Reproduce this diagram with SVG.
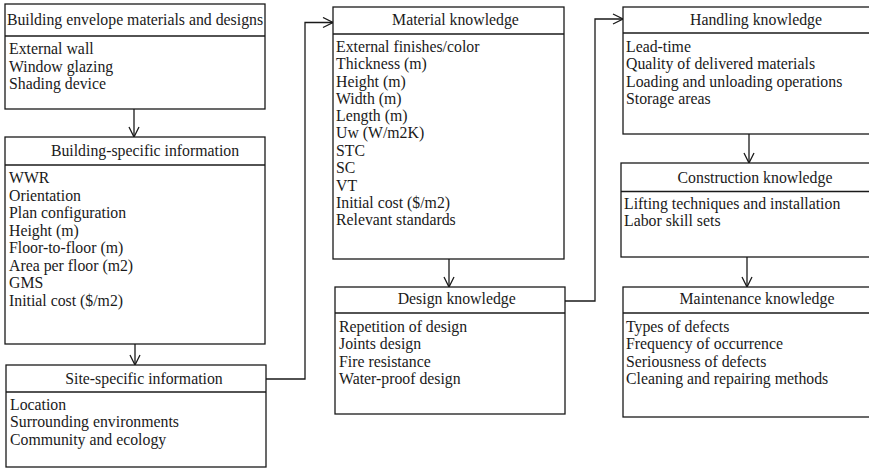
<svg xmlns="http://www.w3.org/2000/svg" width="869" height="468" viewBox="0 0 869 468">
  <style>
    .box { fill: #ffffff; stroke: #1a1a1a; stroke-width: 1.3; }
    .div { stroke: #1a1a1a; stroke-width: 1.3; }
    .con { fill: none; stroke: #1a1a1a; stroke-width: 1.3; }
    text { font-family: "Liberation Serif", "Times New Roman", serif; font-size: 15.8px; fill: #1a1a1a; }
    .h { text-anchor: middle; }
  </style>
  <defs>
    <marker id="open" viewBox="0 0 12 12" refX="11" refY="6" markerWidth="12" markerHeight="12" markerUnits="userSpaceOnUse" orient="auto">
      <path d="M1,1 L11,6 L1,11" fill="none" stroke="#1a1a1a" stroke-width="1.3"/>
    </marker>
  </defs>
  <rect width="869" height="468" fill="#ffffff"/>

  <!-- connectors -->
  <g id="connectors">
    <line class="con" x1="134" y1="109" x2="134" y2="137" marker-end="url(#open)"/>
    <line class="con" x1="135" y1="344" x2="135" y2="365" marker-end="url(#open)"/>
    <polyline class="con" points="266,379 305,379 305,22.5 333,22.5" marker-end="url(#open)"/>
    <line class="con" x1="449" y1="259" x2="449" y2="287" marker-end="url(#open)"/>
    <polyline class="con" points="565,301 595,301 595,19 623,19" marker-end="url(#open)"/>
    <line class="con" x1="749" y1="134" x2="749" y2="163" marker-end="url(#open)"/>
    <line class="con" x1="747" y1="257" x2="747" y2="287" marker-end="url(#open)"/>
  </g>

  <!-- left column -->
  <g id="envelope">
    <rect class="box" x="5" y="4" width="260" height="105"/>
    <line class="div" x1="5" y1="36" x2="265" y2="36"/>
    <text class="h" x="135" y="25">Building envelope materials and designs</text>
    <text x="9" y="54.3">External wall</text>
    <text x="9" y="71.7">Window glazing</text>
    <text x="9" y="89">Shading device</text>
  </g>

  <g id="building">
    <rect class="box" x="5" y="137" width="260" height="207"/>
    <line class="div" x1="5" y1="165" x2="265" y2="165"/>
    <text class="h" x="145" y="156">Building-specific information</text>
    <text x="9" y="183.3">WWR</text>
    <text x="9" y="200.8">Orientation</text>
    <text x="9" y="218.3">Plan configuration</text>
    <text x="9" y="235.8">Height (m)</text>
    <text x="9" y="253.3">Floor-to-floor (m)</text>
    <text x="9" y="270.8">Area per floor (m2)</text>
    <text x="9" y="288.3">GMS</text>
    <text x="9" y="305.8">Initial cost ($/m2)</text>
  </g>

  <g id="site">
    <rect class="box" x="6" y="365" width="260" height="102"/>
    <line class="div" x1="6" y1="392" x2="266" y2="392"/>
    <text class="h" x="144" y="384">Site-specific information</text>
    <text x="10" y="410">Location</text>
    <text x="10" y="427.4">Surrounding environments</text>
    <text x="10" y="444.8">Community and ecology</text>
  </g>

  <!-- middle column -->
  <g id="material">
    <rect class="box" x="333" y="7" width="231" height="252"/>
    <line class="div" x1="333" y1="34" x2="564" y2="34"/>
    <text class="h" x="455.5" y="25">Material knowledge</text>
    <text x="336" y="51.7">External finishes/color</text>
    <text x="336" y="69.2">Thickness (m)</text>
    <text x="336" y="86.7">Height (m)</text>
    <text x="336" y="104">Width (m)</text>
    <text x="336" y="121">Length (m)</text>
    <text x="336" y="137.6">Uw (W/m2K)</text>
    <text x="336" y="155.5">STC</text>
    <text x="336" y="173">SC</text>
    <text x="336" y="190.5">VT</text>
    <text x="336" y="208">Initial cost ($/m2)</text>
    <text x="336" y="225.3">Relevant standards</text>
  </g>

  <g id="design">
    <rect class="box" x="335" y="287" width="230" height="127"/>
    <line class="div" x1="335" y1="313" x2="565" y2="313"/>
    <text class="h" x="456.7" y="304.3">Design knowledge</text>
    <text x="339" y="331.7">Repetition of design</text>
    <text x="339" y="349.1">Joints design</text>
    <text x="339" y="366.5">Fire resistance</text>
    <text x="339" y="383.9">Water-proof design</text>
  </g>

  <!-- right column -->
  <g id="handling">
    <rect class="box" x="623" y="7" width="256" height="127"/>
    <line class="div" x1="623" y1="33" x2="879" y2="33"/>
    <text class="h" x="756" y="24.5">Handling knowledge</text>
    <text x="626" y="51.7">Lead-time</text>
    <text x="626" y="69.1">Quality of delivered materials</text>
    <text x="626" y="86.5">Loading and unloading operations</text>
    <text x="626" y="103.9">Storage areas</text>
  </g>

  <g id="construction">
    <rect class="box" x="621" y="163" width="258" height="94"/>
    <line class="div" x1="621" y1="191.5" x2="879" y2="191.5"/>
    <text class="h" x="755" y="183">Construction knowledge</text>
    <text x="624" y="209">Lifting techniques and installation</text>
    <text x="624" y="226.4">Labor skill sets</text>
  </g>

  <g id="maintenance">
    <rect class="box" x="623" y="287" width="256" height="130"/>
    <line class="div" x1="623" y1="313" x2="879" y2="313"/>
    <text class="h" x="757" y="304.3">Maintenance knowledge</text>
    <text x="626" y="331.7">Types of defects</text>
    <text x="626" y="349.1">Frequency of occurrence</text>
    <text x="626" y="366.5">Seriousness of defects</text>
    <text x="626" y="383.9">Cleaning and repairing methods</text>
  </g>
</svg>
